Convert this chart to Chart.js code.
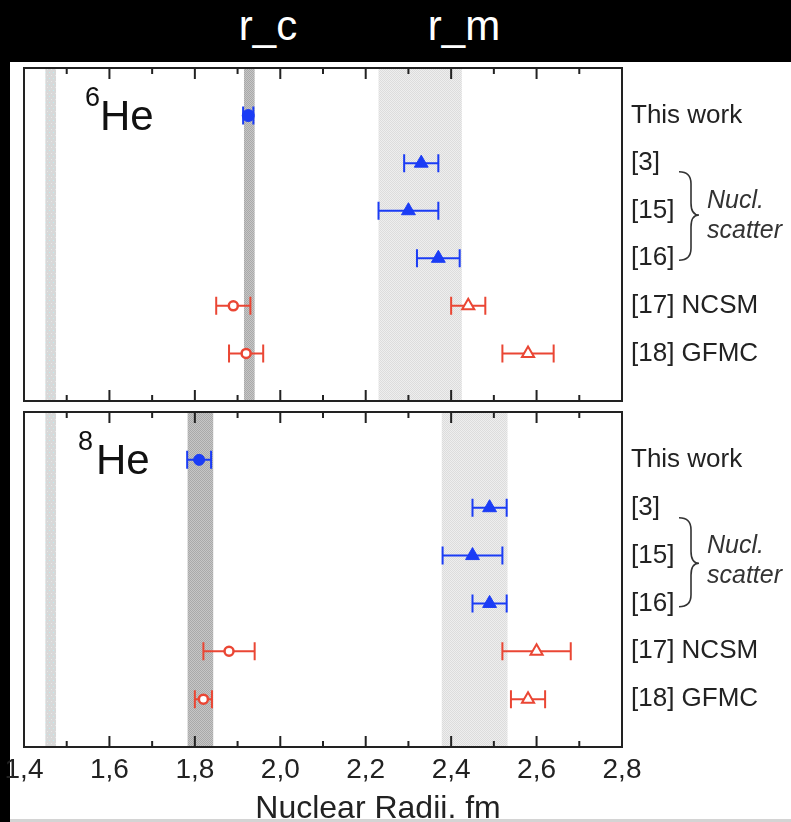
<!DOCTYPE html>
<html>
<head>
<meta charset="utf-8">
<script src="https://cdn.jsdelivr.net/npm/chart.js@4.4.1/dist/chart.umd.min.js"></script>
<style>
  body { margin: 0; background: #000; width: 791px; height: 822px; overflow: hidden; position: relative; font-family: "Liberation Sans", Arial, sans-serif; }
  .sheet { position: absolute; left: 10px; top: 62px; width: 781px; height: 760px; background: #fff; }
  .foot { position: absolute; left: 10px; top: 819px; width: 781px; height: 3px; background: #d4d4d4; }
  .head { position: absolute; top: 3px; color: #fff; font-size: 42px; line-height: 46px; transform: translateX(-50%); }
  canvas { position: absolute; left: 0; }
</style>
</head>
<body>
<div class="sheet"></div>
<div class="foot"></div>
<div class="head" style="left:268px">r_c</div>
<div class="head" style="left:464px">r_m</div>
<canvas id="he6Chart" width="791" height="351" style="top:59px"></canvas>
<canvas id="he8Chart" width="791" height="419" style="top:403px"></canvas>

<script>
const FONT = '"Liberation Sans", Arial, sans-serif';

const rowLabels = ["This work", "[3]", "[15]", "[16]", "[17] NCSM", "[18] GFMC"];

// 6He: charge radius (r_c) and matter radius (r_m), one entry per row
const he6Rc = [1.925, null, null, null, 1.89, 1.92];
const he6RcErr = [0.012, null, null, null, 0.04, 0.04];
const he6Rm = [null, 2.33, 2.30, 2.37, 2.44, 2.58];
const he6RmErr = [null, 0.04, 0.07, 0.05, 0.04, 0.06];
const he6Bands = [[1.45, 1.475], [1.915, 1.94], [2.23, 2.425]];

// 8He
const he8Rc = [1.81, null, null, null, 1.88, 1.82];
const he8RcErr = [0.028, null, null, null, 0.06, 0.02];
const he8Rm = [null, 2.49, 2.45, 2.49, 2.60, 2.58];
const he8RmErr = [null, 0.04, 0.07, 0.04, 0.08, 0.04];
const he8Bands = [[1.45, 1.475], [1.783, 1.843], [2.378, 2.532]];

const BLUE = "#1b3cf5";
const RED = "#ea4634";

function makePattern(w, h, base, dots) {
  const c = document.createElement("canvas");
  c.width = w;
  c.height = h;
  const g = c.getContext("2d");
  g.fillStyle = base;
  g.fillRect(0, 0, w, h);
  dots.forEach(d => {
    g.fillStyle = d[2];
    g.fillRect(d[0], d[1], 1, 1);
  });
  return g.createPattern(c, "repeat");
}

function pick(values, errs, rows) {
  const pts = [];
  rows.forEach(i => {
    if (values[i] != null) pts.push({ x: values[i], y: i + 1, err: errs[i] });
  });
  return pts;
}

function buildDatasets(rc, rcErr, rm, rmErr, ownRadius) {
  return [
    {
      data: pick(rc, rcErr, [0]),
      pointStyle: "circle", pointRadius: ownRadius,
      backgroundColor: BLUE, borderColor: BLUE, pointBorderWidth: 1
    },
    {
      data: pick(rm, rmErr, [1, 2, 3]),
      pointStyle: "triangle", pointRadius: 8,
      backgroundColor: BLUE, borderColor: BLUE, pointBorderWidth: 1
    },
    {
      data: pick(rc, rcErr, [4, 5]),
      pointStyle: "circle", pointRadius: 4.5,
      backgroundColor: "#fff", borderColor: RED, pointBorderWidth: 2.5
    },
    {
      data: pick(rm, rmErr, [4, 5]),
      pointStyle: "triangle", pointRadius: 7,
      backgroundColor: "#fff", borderColor: RED, pointBorderWidth: 2
    }
  ];
}

const bandPlugin = {
  id: "bands",
  beforeDatasetsDraw(chart, args, opts) {
    const { ctx, chartArea } = chart;
    const x = chart.scales.x;
    const fills = [
      makePattern(4, 6, "#d8d8d8", [[1, 1, "#bfeef2"], [3, 4, "#e8e8e8"]]),
      makePattern(2, 2, "#a9a9a9", [[0, 0, "#c6c6c6"], [1, 1, "#c6c6c6"]]),
      makePattern(2, 2, "#dcdcdc", [[0, 0, "#eeeeee"], [1, 1, "#eeeeee"]])
    ];
    ctx.save();
    opts.ranges.forEach((r, i) => {
      const x0 = x.getPixelForValue(r[0]);
      const x1 = x.getPixelForValue(r[1]);
      ctx.fillStyle = fills[i];
      ctx.fillRect(x0, chartArea.top, x1 - x0, chartArea.bottom - chartArea.top);
    });
    ctx.restore();
  }
};

const errorBarPlugin = {
  id: "errorBars",
  beforeDatasetsDraw(chart) {
    const { ctx } = chart;
    const x = chart.scales.x;
    const y = chart.scales.y;
    ctx.save();
    chart.data.datasets.forEach(ds => {
      ctx.strokeStyle = ds.borderColor;
      ctx.lineWidth = 2;
      ds.data.forEach(p => {
        if (!p.err) return;
        const py = y.getPixelForValue(p.y);
        const a = x.getPixelForValue(p.x - p.err);
        const b = x.getPixelForValue(p.x + p.err);
        ctx.beginPath();
        ctx.moveTo(a, py);
        ctx.lineTo(b, py);
        ctx.moveTo(a, py - 9);
        ctx.lineTo(a, py + 9);
        ctx.moveTo(b, py - 9);
        ctx.lineTo(b, py + 9);
        ctx.stroke();
      });
    });
    ctx.restore();
  }
};

const framePlugin = {
  id: "frame",
  afterDraw(chart, args, opts) {
    const { ctx, chartArea } = chart;
    const x = chart.scales.x;
    const y = chart.scales.y;
    ctx.save();

    // box with inward ticks on top and bottom
    ctx.strokeStyle = "#222";
    ctx.lineWidth = 2;
    ctx.strokeRect(chartArea.left, chartArea.top, chartArea.right - chartArea.left, chartArea.bottom - chartArea.top);
    x.ticks.forEach(t => {
      const px = x.getPixelForValue(t.value);
      const len = Math.round(t.value * 10) % 2 === 0 ? 11 : 6;
      ctx.beginPath();
      ctx.moveTo(px, chartArea.top);
      ctx.lineTo(px, chartArea.top + len);
      ctx.moveTo(px, chartArea.bottom);
      ctx.lineTo(px, chartArea.bottom - len);
      ctx.stroke();
    });

    // isotope name
    ctx.fillStyle = "#111";
    ctx.textBaseline = "alphabetic";
    ctx.font = "27px " + FONT;
    ctx.fillText(opts.mass, chartArea.left + opts.supX, chartArea.top + 38);
    ctx.font = "42px " + FONT;
    ctx.fillText("He", chartArea.left + opts.heX, chartArea.top + 62);

    // "Nucl. scatter" with brace
    const r = chartArea.right;
    ctx.font = "italic 25px " + FONT;
    ctx.textBaseline = "middle";
    ctx.fillStyle = "#333";
    ctx.fillText("Nucl.", r + 85, y.getPixelForValue(2.8));
    ctx.fillText("scatter", r + 85, y.getPixelForValue(3.43));

    const yTop = y.getPixelForValue(opts.brace[0]);
    const yMid = y.getPixelForValue(opts.brace[1]);
    const yBot = y.getPixelForValue(opts.brace[2]);
    const x0 = r + 57, x1 = r + 69, x2 = r + 77;
    ctx.strokeStyle = "#333";
    ctx.lineWidth = 1.6;
    ctx.beginPath();
    ctx.moveTo(x0, yTop);
    ctx.quadraticCurveTo(x1, yTop, x1, yTop + 12);
    ctx.lineTo(x1, yMid - 12);
    ctx.quadraticCurveTo(x1, yMid, x2, yMid);
    ctx.quadraticCurveTo(x1, yMid, x1, yMid + 12);
    ctx.lineTo(x1, yBot - 12);
    ctx.quadraticCurveTo(x1, yBot, x0, yBot);
    ctx.stroke();

    // axis title, drawn off-centre as in the original
    if (opts.title) {
      ctx.fillStyle = "#222";
      ctx.font = "32px " + FONT;
      ctx.textAlign = "center";
      ctx.textBaseline = "alphabetic";
      ctx.fillText(opts.title, 378, chartArea.bottom + 71);
    }
    ctx.restore();
  }
};

function noPad(scale) {
  scale.paddingTop = 0;
  scale.paddingBottom = 0;
  scale.paddingLeft = 0;
  scale.paddingRight = 0;
}

function makeChart(canvasId, datasets, bands, deco, showAxis) {
  const ctx = document.getElementById(canvasId).getContext("2d");
  return new Chart(ctx, {
    type: "scatter",
    data: { datasets: datasets },
    plugins: [bandPlugin, errorBarPlugin, framePlugin],
    options: {
      responsive: false,
      animation: false,
      devicePixelRatio: 1,
      layout: { padding: { left: 24, top: 0, right: 0, bottom: 0 } },
      plugins: {
        legend: { display: false },
        tooltip: { enabled: false },
        bands: { ranges: bands },
        frame: deco
      },
      scales: {
        x: {
          type: "linear",
          min: 1.4,
          max: 2.8,
          display: showAxis,
          grid: { display: false, drawTicks: false },
          border: { display: false },
          ticks: {
            stepSize: 0.1,
            autoSkip: false,
            maxRotation: 0,
            padding: 6,
            color: "#222",
            font: { family: FONT, size: 28 },
            callback: function (v) {
              const k = Math.round(v * 10);
              return k % 2 === 0 ? (k / 10).toFixed(1).replace(".", ",") : "";
            }
          },
          afterFit: function (scale) {
            scale.height = showAxis ? 75 : 0;
            noPad(scale);
          }
        },
        y: { type: "linear", min: 0, max: 7, reverse: true, display: false },
        y2: {
          type: "linear",
          position: "right",
          min: 0,
          max: 7,
          reverse: true,
          grid: { display: false, drawTicks: false },
          border: { display: false },
          ticks: {
            stepSize: 1,
            autoSkip: false,
            padding: 9,
            color: "#222",
            font: { family: FONT, size: 26 },
            callback: function (v) { return rowLabels[v - 1] || ""; }
          },
          afterFit: function (scale) {
            scale.width = 169;
            noPad(scale);
          }
        }
      }
    }
  });
}

makeChart("he6Chart", buildDatasets(he6Rc, he6RcErr, he6Rm, he6RmErr, 6), he6Bands,
  { mass: "6", supX: 61, heX: 76, brace: [2.18, 3.09, 4.04], title: "" }, false);
makeChart("he8Chart", buildDatasets(he8Rc, he8RcErr, he8Rm, he8RmErr, 5.5), he8Bands,
  { mass: "8", supX: 54, heX: 72, brace: [2.21, 3.16, 4.07], title: "Nuclear Radii. fm" }, true);
</script>
</body>
</html>
